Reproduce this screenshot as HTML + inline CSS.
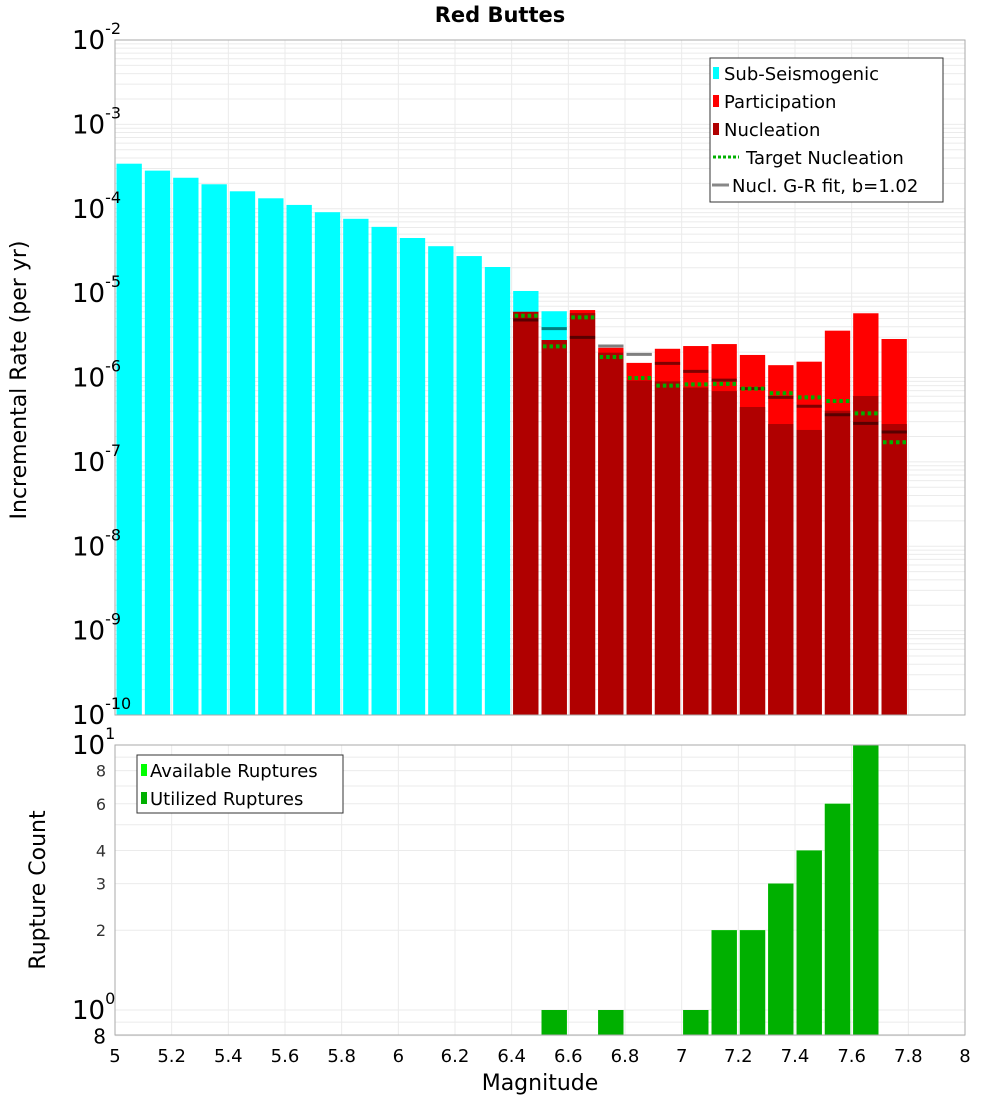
<!DOCTYPE html>
<html><head><meta charset="utf-8"><style>
body{margin:0;background:#fff;}
svg{display:block;font-family:"DejaVu Sans","Liberation Sans",sans-serif;}
</style></head><body>
<svg id="c" width="1000" height="1100" xmlns="http://www.w3.org/2000/svg"></svg>
<script>
const subMags=[5.05,5.15,5.25,5.35,5.45,5.55,5.65,5.75,5.85,5.95,6.05,6.15,6.25,6.35,6.45,6.55];
const subRates=[3.42e-4,2.83e-4,2.33e-4,1.95e-4,1.61e-4,1.33e-4,1.11e-4,9.1e-5,7.6e-5,6.1e-5,4.5e-5,3.6e-5,2.75e-5,2.04e-5,1.06e-5,6.1e-6];
const mags=[6.45,6.55,6.65,6.75,6.85,6.95,7.05,7.15,7.25,7.35,7.45,7.55,7.65,7.75];
const partRates=[6.0e-6,2.78e-6,6.3e-6,2.25e-6,1.49e-6,2.19e-6,2.36e-6,2.49e-6,1.85e-6,1.40e-6,1.54e-6,3.59e-6,5.77e-6,2.86e-6];
const nuclRates=[6.0e-6,2.78e-6,5.8e-6,1.97e-6,9.2e-7,9.0e-7,7.6e-7,6.9e-7,4.47e-7,2.81e-7,2.39e-7,4.04e-7,6.04e-7,2.81e-7];
const targetRates=[5.4e-6,2.34e-6,5.16e-6,1.75e-6,9.87e-7,8.0e-7,8.3e-7,8.4e-7,7.37e-7,6.5e-7,5.82e-7,5.26e-7,3.76e-7,1.71e-7];
const grRates=[4.81e-6,3.79e-6,2.99e-6,2.36e-6,1.88e-6,1.47e-6,1.18e-6,9.3e-7,7.37e-7,5.82e-7,4.56e-7,3.62e-7,2.86e-7,2.26e-7];
const countMags=[6.55,6.75,7.05,7.15,7.25,7.35,7.45,7.55,7.65];
const availCounts=[1,1,1,2,2,3,4,6,10];
const usedCounts=[1,1,1,2,2,3,4,6,10];
const xTicks=["5","5.2","5.4","5.6","5.8","6","6.2","6.4","6.6","6.8","7","7.2","7.4","7.6","7.8","8"];
const yExps=["-2","-3","-4","-5","-6","-7","-8","-9","-10"];
const cTicks=["8","6","4","3","2"];

const NS="http://www.w3.org/2000/svg";
const svg=document.getElementById('c');
function mk(t,a,p){const e=document.createElementNS(NS,t);for(const k in a)e.setAttribute(k,a[k]);(p||svg).appendChild(e);return e;}
const L=115,R=965,T1=40,B1=715,T2=745,B2=1035;
const X=m=>L+(m-5)/3*(R-L);
const Y1=v=>T1+(-2-Math.log10(v))*(B1-T1)/8;
const Y2=v=>1010-Math.log10(v)*265;
const bw=(R-L)/30;

// grids
const g=mk('g',{});

for(let d=-10;d<-2;d++)for(let k=1;k<10;k++){const y=Y1(k*Math.pow(10,d));mk('line',{x1:L,x2:R,y1:y,y2:y,stroke:'#ebebeb','stroke-width':1},g);}
for(const c of [0.8,0.9,1,2,3,4,5,6,7,8,9,10]){const y=Y2(c);mk('line',{x1:L,x2:R,y1:y,y2:y,stroke:'#ebebeb','stroke-width':1},g);}
xTicks.forEach(t=>{const x=X(+t);mk('line',{x1:x,x2:x,y1:T1,y2:B1,stroke:'#ebebeb'},g);mk('line',{x1:x,x2:x,y1:T2,y2:B2,stroke:'#ebebeb'},g);});

// top bars
subMags.forEach((m,i)=>{const y=Y1(subRates[i]);const r=mk('rect',{x:X(m)-bw/2+1.5,y:y,width:bw-3,height:B1-y,fill:'#00ffff'});
});
mags.forEach((m,i)=>{const y=Y1(partRates[i]);const r=mk('rect',{x:X(m)-bw/2+1.5,y:y,width:bw-3,height:B1-y,fill:'#ff0000'});
});
mags.forEach((m,i)=>{const y=Y1(nuclRates[i]);const r=mk('rect',{x:X(m)-bw/2+1.5,y:y,width:bw-3,height:B1-y,fill:'#b00000'});
});
mags.forEach((m,i)=>{const y=Y1(grRates[i]);const l=mk('line',{x1:X(m)-bw/2+1.5,x2:X(m)+bw/2-1.5,y1:y,y2:y,stroke:'rgba(0,0,0,0.5)','stroke-width':3});
});
mags.forEach((m,i)=>{const y=Y1(targetRates[i]);const l=mk('line',{x1:X(m)-bw/2+3,x2:X(m)+bw/2-2,y1:y,y2:y,stroke:'#00b000','stroke-width':4,'stroke-dasharray':'3.5,3'});
});

// bottom bars
countMags.forEach((m,i)=>{const y=Y2(availCounts[i]);const r=mk('rect',{x:X(m)-bw/2+1.5,y:y,width:bw-3,height:B2-y,fill:'#00ff00'});
});
countMags.forEach((m,i)=>{const y=Y2(usedCounts[i]);const r=mk('rect',{x:X(m)-bw/2+1.5,y:y,width:bw-3,height:B2-y,fill:'#00b000'});
});

// frames
mk('rect',{x:L,y:T1,width:R-L,height:B1-T1,fill:'none',stroke:'#aaa'});
mk('rect',{x:L,y:T2,width:R-L,height:B2-T2,fill:'none',stroke:'#aaa'});

// y ticks top
yExps.forEach(e=>{const y=Y1(Math.pow(10,+e));const t=mk('text',{x:72,y:y+9,'font-size':26,fill:'#000'});

t.textContent='10';const s=mk('tspan',{dy:-15,'font-size':16},t);s.textContent=e;});
// bottom y ticks
[[10,'1'],[1,'0']].forEach(([v,e])=>{const y=Y2(v);const t=mk('text',{x:72,y:y+9,'font-size':26});

t.textContent='10';const s=mk('tspan',{dy:-15,'font-size':16},t);s.textContent=e;});
cTicks.forEach(c=>{const y=Y2(+c);const t=mk('text',{x:106,y:y+6,'font-size':16,'text-anchor':'end',fill:'#333'});
t.textContent=c;});
{const t=mk('text',{x:106,y:Y2(0.8)+8,'font-size':20,'text-anchor':'end'});t.textContent='8';}
// x ticks
xTicks.forEach(s=>{const t=mk('text',{x:X(+s),y:1062,'font-size':18,'text-anchor':'middle'});
t.textContent=s;});

// titles
let t;
t=mk('text',{x:500,y:22,'font-size':21,'font-weight':'bold','text-anchor':'middle'});t.textContent='Red Buttes';
t=mk('text',{x:540,y:1090,'font-size':22,'text-anchor':'middle'});t.textContent='Magnitude';
t=mk('text',{x:0,y:0,'font-size':22,'text-anchor':'middle',transform:'translate(26,380) rotate(-90)'});t.textContent='Incremental Rate (per yr)';
t=mk('text',{x:0,y:0,'font-size':22,'text-anchor':'middle',transform:'translate(45,890) rotate(-90)'});t.textContent='Rupture Count';

// legend top
const lg=mk('g',{});
mk('rect',{x:710,y:58,width:233,height:144,fill:'#fff',stroke:'#333'},lg);
const items=[['Sub-Seismogenic','#00ffff','box'],['Participation','#ff0000','box'],['Nucleation','#b00000','box'],['Target Nucleation','#00b000','dot'],['Nucl. G-R fit, b=1.02','#888','line']];
items.forEach((it,i)=>{const y=73+i*28;
if(it[2]=='box')mk('rect',{x:713,y:y-6,width:6,height:12,fill:it[1]},lg);
else if(it[2]=='dot')mk('line',{x1:713,x2:739,y1:y,y2:y,stroke:it[1],'stroke-width':3,'stroke-dasharray':'3,2'},lg);
else mk('line',{x1:712,x2:729,y1:y,y2:y,stroke:it[1],'stroke-width':3},lg);
const tx=mk('text',{x:it[2]=='box'?724:(it[2]=='dot'?746:732),y:y+7,'font-size':18},lg);tx.textContent=it[0];});
// legend bottom
const lg2=mk('g',{});
mk('rect',{x:137,y:755,width:206,height:58,fill:'#fff',stroke:'#333'},lg2);
[['Available Ruptures','#00ff00'],['Utilized Ruptures','#00b000']].forEach((it,i)=>{const y=770+i*28;
mk('rect',{x:141,y:y-6,width:6,height:12,fill:it[1]},lg2);
const tx=mk('text',{x:150,y:y+7,'font-size':18},lg2);tx.textContent=it[0];});
</script>
</body></html>
